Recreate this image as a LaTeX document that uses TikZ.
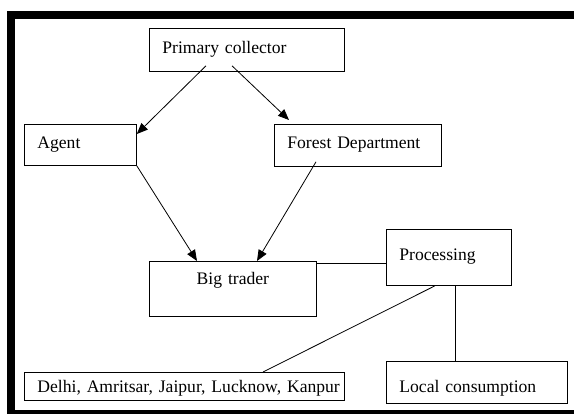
\documentclass[tikz,border=0pt]{standalone}
\usepackage{fontspec}
\setmainfont{Liberation Serif}
\usepackage{tikz}
\usetikzlibrary{arrows.meta}

\begin{document}
\begin{tikzpicture}[x=1pt,y=-1pt]
\useasboundingbox (0,0) rectangle (574,414);
%frame
\fill (7,11) rectangle (574,19);
\fill (7,11) rectangle (15,414);
\fill (7,410) rectangle (574,414);

\begin{scope}[every node/.style={draw,rectangle,anchor=north west,inner xsep=13pt,inner ysep=0pt,align=left,line width=0.8pt,font=\fontsize{17.6}{20}\selectfont}]
    \node[text width=169pt,text height=25pt,text depth=18pt] (pc) at (149,28) {Primary collector};
    \node[text width=86pt,text height=24pt,text depth=17pt] (ag) at (24,124) {Agent};
    \node[text width=141pt,text height=24pt,text depth=18pt] (fd) at (274,124) {Forest Department};
    \node[text width=141pt,text height=23pt,text depth=32pt,align=center] (bt) at (149,261) {Big trader};
    \node[text width=99pt,text height=31pt,text depth=25pt] (pr) at (386,229) {Processing};
    \node[text width=294pt,text height=20pt,text depth=8pt] (ci) at (24,372) {\mbox{Delhi, Amritsar, Jaipur, Lucknow, Kanpur}};
    \node[text width=155pt,text height=31pt,text depth=11pt] (lc) at (386,361) {Local consumption};
\end{scope}

\begin{scope}[>={Triangle[length=11pt,width=9pt]},every edge/.style={draw=black,line width=0.8pt}]
    \path [->] ([xshift=57pt,yshift=6pt]pc.south west) edge ([yshift=-10pt]ag.north east);
    \path [->] ([xshift=83pt,yshift=6pt]pc.south west) edge ([xshift=15pt,yshift=4pt]fd.north west);
    \path [->] (ag.south east) edge ([xshift=48pt]bt.north west);
    \path [->] ([xshift=42pt,yshift=5pt]fd.south west) edge ([xshift=108pt]bt.north west);

    \path [-] ([yshift=-2pt]bt.north east) edge ([yshift=-34pt]pr.north west);
    \path [-] ([xshift=49pt]pr.south west) edge ([xshift=239pt]ci.north west);
    \path [-] ([xshift=69pt]pr.south west) edge ([xshift=69pt]lc.north west);
\end{scope}
\end{tikzpicture}
\end{document}
